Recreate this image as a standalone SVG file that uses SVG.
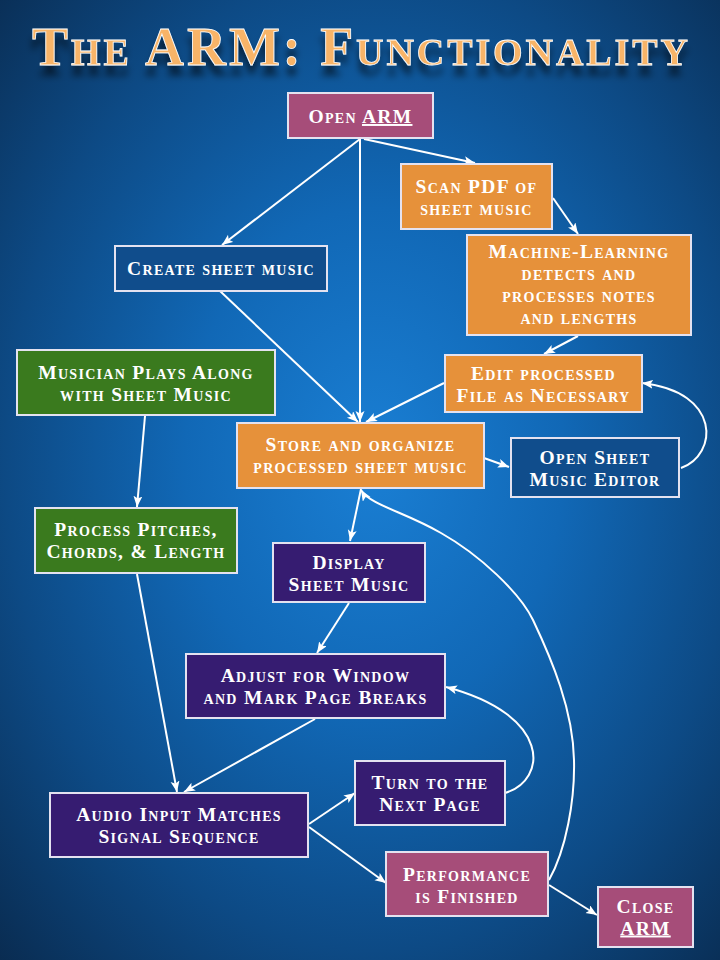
<svg xmlns="http://www.w3.org/2000/svg" width="720" height="960" viewBox="0 0 720 960">
<defs>
<radialGradient id="bg" cx="0.52" cy="0.48" r="0.75">
<stop offset="0" stop-color="#1A7FD4"/>
<stop offset="0.35" stop-color="#1168B6"/>
<stop offset="0.68" stop-color="#0D4A85"/>
<stop offset="1" stop-color="#092A4E"/>
</radialGradient>
<filter id="shadow" x="-10%" y="-30%" width="120%" height="180%">
<feDropShadow dx="0" dy="10" stdDeviation="3.5" flood-color="#000" flood-opacity="0.55"/>
</filter>
<marker id="arr" markerUnits="userSpaceOnUse" markerWidth="12" markerHeight="10" refX="11" refY="4.5" orient="auto">
<path d="M0,0 L11,4.5 L0,9 L2.5,4.5 z" fill="#fff"/>
</marker>
</defs>
<style>
.node rect{stroke:#E4E2F0;stroke-width:2}
.pink rect{fill:#A64D79}
.orange rect{fill:#E6913A}
.green rect{fill:#3A7A1E}
.purple rect{fill:#361C71}
.blue rect{fill:#104D8C}
.node text{font-family:"Liberation Serif","Times New Roman",serif;font-weight:bold;font-variant:small-caps;font-size:19.5px;fill:#fff;text-anchor:middle;letter-spacing:1.3px}
.title{font-family:"Liberation Serif","Times New Roman",serif;font-weight:bold;font-variant:small-caps;font-size:54px;fill:#F8B468;stroke:#fff;stroke-width:0.8;text-anchor:middle}
#connectors path{fill:none;stroke:#fff;stroke-width:2;marker-end:url(#arr)}
</style>
<rect width="720" height="960" fill="url(#bg)"/>
<text class="title" x="360" y="65" textLength="656" lengthAdjust="spacing" filter="url(#shadow)">The ARM: Functionality</text>

<g id="connectors">
<path d="M360,139 L222,245"/>
<path d="M360,139 L360,422"/>
<path d="M364,139 L475,163"/>
<path d="M553,198 L578,234"/>
<path d="M578,336 L544,354"/>
<path d="M220,291 L358,422"/>
<path d="M444,383 L366,422"/>
<path d="M484,458 L509,467"/>
<path d="M681,468 C718,455 722,392 642,383"/>
<path d="M361,489 L350,541"/>
<path d="M349,603 L317,653"/>
<path d="M145,416 L137,507"/>
<path d="M137,574 L177,792"/>
<path d="M315,719 L184,792"/>
<path d="M309,824 L355,793"/>
<path d="M309,827 L386,883"/>
<path d="M505,793 C548,780 552,715 446,687"/>
<path d="M549,885 L597,915"/>
<path d="M549,880 C566,850 575,800 574,760 C573,710 552,660 533,620 C520,593 480,555 441,533 C405,512 370,505 361,490"/>
</g>

<g id="open-arm" class="node pink">
<rect x="288" y="93" width="145" height="45"/>
<text x="360.5" y="123">Open <tspan text-decoration="underline">ARM</tspan></text>
</g>
<g id="create" class="node blue">
<rect x="115" y="246" width="212" height="45"/>
<text x="221" y="275">Create sheet music</text>
</g>
<g id="scan" class="node orange">
<rect x="401" y="164" width="151" height="65"/>
<text x="476.5" y="193">Scan PDF of</text>
<text x="476.5" y="215">sheet music</text>
</g>
<g id="ml" class="node orange">
<rect x="467" y="235" width="224" height="100"/>
<text x="579" y="258">Machine-Learning</text>
<text x="579" y="280">detects and</text>
<text x="579" y="302">processes notes</text>
<text x="579" y="324">and lengths</text>
</g>
<g id="edit" class="node orange">
<rect x="445" y="355" width="197" height="57"/>
<text x="543.5" y="380">Edit processed</text>
<text x="543.5" y="402">File as Necessary</text>
</g>
<g id="musician" class="node green">
<rect x="17" y="350" width="258" height="65"/>
<text x="146" y="379">Musician Plays Along</text>
<text x="146" y="401">with Sheet Music</text>
</g>
<g id="store" class="node orange">
<rect x="237" y="423" width="247" height="65"/>
<text x="360.5" y="450.5">Store and organize</text>
<text x="360.5" y="472.5">processed sheet music</text>
</g>
<g id="editor" class="node blue">
<rect x="511" y="438" width="168" height="59"/>
<text x="595" y="464">Open Sheet</text>
<text x="595" y="486">Music Editor</text>
</g>
<g id="process" class="node green">
<rect x="35" y="508" width="202" height="65"/>
<text x="136" y="536">Process Pitches,</text>
<text x="136" y="558">Chords, &amp; Length</text>
</g>
<g id="display" class="node purple">
<rect x="273" y="543" width="152" height="59"/>
<text x="349" y="568.5">Display</text>
<text x="349" y="590.5">Sheet Music</text>
</g>
<g id="adjust" class="node purple">
<rect x="186" y="654" width="259" height="64"/>
<text x="315.5" y="682">Adjust for Window</text>
<text x="315.5" y="704">and Mark Page Breaks</text>
</g>
<g id="turn" class="node purple">
<rect x="355" y="761" width="150" height="64"/>
<text x="430" y="789">Turn to the</text>
<text x="430" y="811">Next Page</text>
</g>
<g id="audio" class="node purple">
<rect x="50" y="793" width="258" height="64"/>
<text x="179" y="821">Audio Input Matches</text>
<text x="179" y="843">Signal Sequence</text>
</g>
<g id="performance" class="node pink">
<rect x="386" y="852" width="162" height="64"/>
<text x="467" y="881">Performance</text>
<text x="467" y="903">is Finished</text>
</g>
<g id="close-arm" class="node pink">
<rect x="598" y="887" width="95" height="60"/>
<text x="645.5" y="912.5">Close</text>
<text x="645.5" y="934.5"><tspan text-decoration="underline">ARM</tspan></text>
</g>
</svg>
